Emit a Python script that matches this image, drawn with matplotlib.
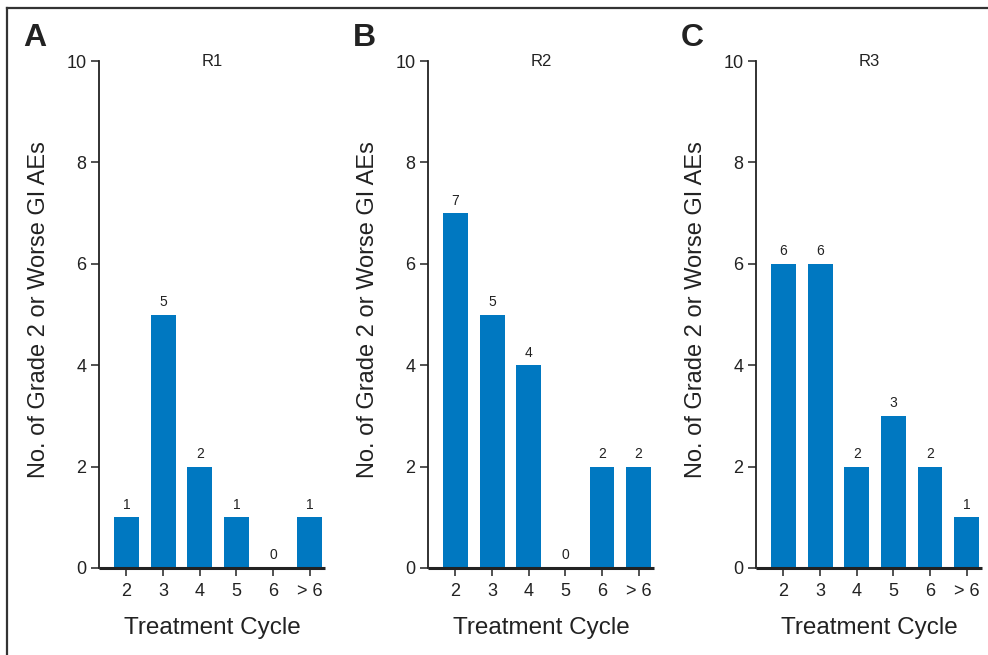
import matplotlib.pyplot as plt
from matplotlib import rcParams
from matplotlib.lines import Line2D

# data
cycles = ["2", "3", "4", "5", "6", "> 6"]
r1_counts = [1, 5, 2, 1, 0, 1]
r2_counts = [7, 5, 4, 0, 2, 2]
r3_counts = [6, 6, 2, 3, 2, 1]
panel_titles = ["R1", "R2", "R3"]
panel_letters = ["A", "B", "C"]

rcParams['font.family'] = ['Liberation Sans', 'DejaVu Sans']

bar_color = "#0078c1"
ink = "#222222"

fig = plt.figure(figsize=(9.88, 6.55), dpi=100)
W, H = 988, 655

# axis positions in pixels (left spine, width)
lefts = [99, 428, 756]
ax_w = 226
y_bottom = 568
y_top = 61

all_counts = [r1_counts, r2_counts, r3_counts]
for i, counts in enumerate(all_counts):
    ax = fig.add_axes([lefts[i] / W, (H - y_bottom) / H, ax_w / W, (y_bottom - y_top) / H])
    x = range(len(cycles))
    ax.bar(x, counts, width=0.68, color=bar_color, zorder=2)
    for xi, c in zip(x, counts):
        ax.annotate(str(c), (xi, c), xytext=(0, 4), textcoords="offset points",
                    ha="center", va="bottom", fontsize=10, color=ink)
    ax.set_xlim(-0.75, 5.42)
    ax.set_ylim(0, 10)
    ax.set_yticks([0, 2, 4, 6, 8, 10])
    ax.set_xticks(list(x))
    ax.set_xticklabels(cycles)
    for side in ["top", "right"]:
        ax.spines[side].set_visible(False)
    ax.spines["left"].set_color(ink)
    ax.spines["left"].set_linewidth(1.3)
    ax.spines["bottom"].set_color(ink)
    ax.spines["bottom"].set_linewidth(2.2)
    ax.spines["bottom"].set_capstyle("butt")
    ax.tick_params(axis="both", direction="out", length=6, width=1.1, color=ink,
                   labelsize=13, labelcolor=ink, pad=3)
    ax.tick_params(axis="x", pad=5)
    ax.set_xlabel("Treatment Cycle", fontsize=17.5, color=ink, labelpad=12)
    ax.set_ylabel("No. of Grade 2 or Worse GI AEs", fontsize=17, color=ink)
    ax.yaxis.set_label_coords(-0.215, 0.51)
    ax.text(0.5, 1.0, panel_titles[i], transform=ax.transAxes, ha="center", va="center",
            fontsize=12, color=ink)
    fig.text((lefts[i] - 64) / W, (H - 38) / H, panel_letters[i], ha="center", va="center",
             fontsize=23, fontweight="bold", color=ink)

# frame lines at top and left
fig.add_artist(Line2D([7 / W, 1.0], [(H - 8) / H, (H - 8) / H], color="#333333", lw=1.6))
fig.add_artist(Line2D([7 / W, 7 / W], [0, (H - 8) / H], color="#333333", lw=1.6))

fig.savefig("out.png", dpi=100, facecolor="white")
